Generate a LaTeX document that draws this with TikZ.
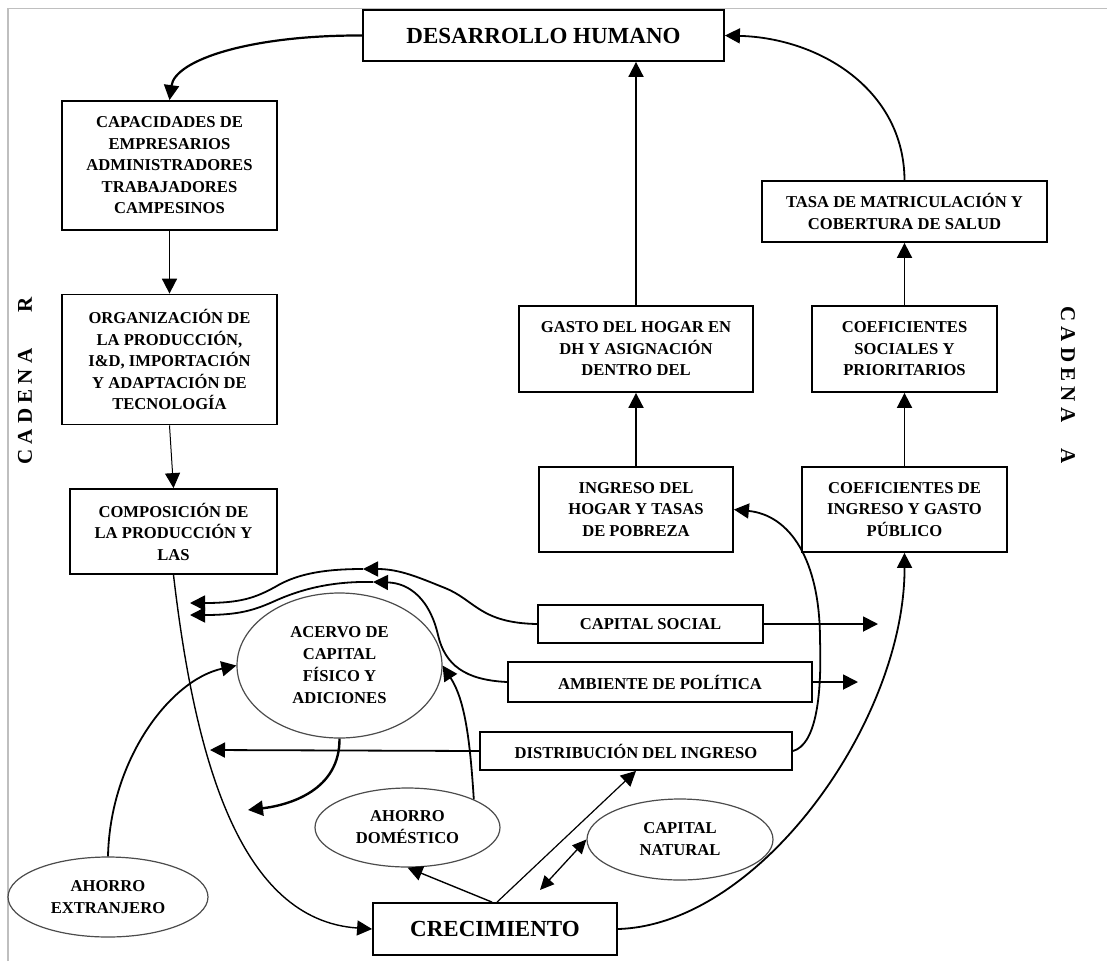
\documentclass[tikz,border=0pt]{standalone}
\usepackage{fontspec}
\setmainfont{Liberation Serif}
\usetikzlibrary{arrows.meta,shapes.geometric,calc}
\newcommand\smtxt{\fontsize{16.6}{21.5}\selectfont\bfseries}
\newcommand\ellsmtxt{\fontsize{16.6}{22}\selectfont\bfseries}
\newcommand\bigtxt{\fontsize{23}{26}\selectfont\bfseries}
\newcommand\sidetxt{\fontsize{21}{24}\selectfont\bfseries}
\begin{document}
\begin{tikzpicture}[x=1pt,y=-1pt,
  box/.style={draw=black, line width=1.8pt, align=center, inner sep=0pt, font=\smtxt},
  ell/.style={draw=black!70, line width=1.2pt, ellipse, align=center, inner sep=0pt, font=\ellsmtxt},
  arr/.style={-{Triangle[length=15pt,width=15pt]}, line width=1.8pt},
  dblarr/.style={{Triangle[length=14pt,width=13pt]}-{Triangle[length=14pt,width=13pt]}, line width=1.3pt}]
\useasboundingbox (0,0) rectangle (1107,961);
\fill[white] (0,0) rectangle (1107,961);
\draw[black!25, line width=1.5pt] (8,961) -- (8,8.5) -- (1107,8.5);

% boxes
\node[box, minimum width=361pt, minimum height=51pt, font=\bigtxt] (dh) at (543.5,35.5) {DESARROLLO HUMANO};
\node[box, minimum width=215pt, minimum height=129pt] (cap) at (169.5,165.5) {CAPACIDADES DE\\EMPRESARIOS\\ADMINISTRADORES\\TRABAJADORES\\CAMPESINOS};
\node[box, minimum width=215pt, minimum height=130pt] (org) at (169.5,359.5) {ORGANIZACIÓN DE\\LA PRODUCCIÓN,\\I\&D, IMPORTACIÓN\\Y ADAPTACIÓN DE\\TECNOLOGÍA};
\node[box, minimum width=207pt, minimum height=85pt] (comp) at (173.5,531.5) {COMPOSICIÓN DE\\LA PRODUCCIÓN Y\\LAS};
\node[box, minimum width=234pt, minimum height=86pt] (gasto) at (636,349) {GASTO DEL HOGAR EN\\DH Y ASIGNACIÓN\\DENTRO DEL};
\node[box, minimum width=194pt, minimum height=85pt] (ingh) at (636,509.5) {INGRESO DEL\\HOGAR Y TASAS\\DE POBREZA};
\node[box, minimum width=285pt, minimum height=61pt] (tasa) at (904.5,211.5) {TASA DE MATRICULACIÓN Y\\COBERTURA DE SALUD};
\node[box, minimum width=185pt, minimum height=86pt] (coefs) at (904.5,349) {COEFICIENTES\\SOCIALES Y\\PRIORITARIOS};
\node[box, minimum width=205pt, minimum height=85pt] (coefi) at (904.5,509.5) {COEFICIENTES DE\\INGRESO Y GASTO\\PÚBLICO};
\node[box, minimum width=225pt, minimum height=38pt] (cs) at (650.5,624) {CAPITAL SOCIAL};
\node[box, minimum width=304pt, minimum height=40pt] (amb) at (660,682) {AMBIENTE DE POLÍTICA};
\node[box, minimum width=312pt, minimum height=38pt] (dist) at (636,751) {DISTRIBUCIÓN DEL INGRESO};
\node[box, minimum width=244pt, minimum height=52pt, font=\bigtxt] (crec) at (495,929) {CRECIMIENTO};

% ellipses
\node[ell, minimum width=205pt, minimum height=145pt] (acervo) at (339.5,665.5) {ACERVO DE\\CAPITAL\\FÍSICO Y\\ADICIONES};
\node[ell, minimum width=185pt, minimum height=79pt] (ahd) at (407.5,827.5) {AHORRO\\DOMÉSTICO};
\node[ell, minimum width=186pt, minimum height=81pt] (capn) at (680,839.5) {CAPITAL\\NATURAL};
\node[ell, minimum width=200pt, minimum height=80pt] (ahe) at (108,897) {AHORRO\\EXTRANJERO};

% side labels
\node[font=\sidetxt, rotate=90, inner sep=0pt] (cadr) at (25,381) {C A D E N A\hspace{36pt}R};
\node[font=\sidetxt, rotate=-90, inner sep=0pt] (cada) at (1068,385) {C A D E N A\hspace{26pt}A};

% free ends
\coordinate (csend) at (878,624);
\coordinate (ambend) at (858,682);
\coordinate (distend) at (210,750);
\coordinate (acend) at (248,810);
\coordinate (cnend) at (540,890);
\coordinate (m1) at (363,569);
\coordinate (m2) at (373,582);
\coordinate (t1) at (190,603);
\coordinate (t2) at (190,615);

% connectors
\draw[arr, line width=2.2pt] (dh.west) .. controls (250,35) and (175,60) .. (cap.north);
\draw[arr] (cap.south) -- (org.north);
\draw[arr, line width=1pt] (org.south) -- (comp.north);
\draw[arr, line width=1.4pt] (comp.south) .. controls (195,760) and (240,920) .. (crec.west);
\draw[arr] (crec.east) .. controls (760,925) and (905,720) .. (coefi.south);
\draw[arr] (ingh.north) -- (gasto.south);
\draw[arr] (gasto.north) -- (gasto.north |- dh.south);
\draw[arr] (coefi.north) -- (coefs.south);
\draw[arr] (coefs.north) -- (tasa.south);
\draw[arr] (tasa.north) .. controls (904,90) and (820,38) .. (dh.east);
\draw[arr] (cs.east) -- (csend);
\draw[arr] (amb.east) -- (ambend);
\draw[arr] (dist.west) -- (distend);
\draw[arr] (cs.west) .. controls (480,623) and (475,600) .. (445,588) .. controls (420,578) and (400,569) .. (m1);
\draw[arr] (m1) .. controls (320,569) and (295,575) .. (275,587) .. controls (255,598) and (240,603) .. (t1);
\draw[arr] (amb.west) .. controls (465,680) and (445,665) .. (438,635) .. controls (430,600) and (410,583) .. (m2);
\draw[arr] (m2) .. controls (330,581) and (300,590) .. (277,600) .. controls (255,610) and (240,615) .. (t2);
\draw[arr] (ahe.north) .. controls (110,760) and (170,680) .. (acervo.west);
\draw[arr, line width=2.4pt] (acervo.south) .. controls (340,790) and (290,805) .. (acend);
\draw[arr] (ahd.23) .. controls (470,740) and (465,700) .. (acervo.east);
\draw[arr, line width=1.4pt] ([xshift=-3pt]crec.north) -- (ahd.south);
\draw[arr, line width=1.2pt] ([xshift=2pt]crec.north) -- (dist.south);
\draw[dblarr] (cnend) -- (capn.west);
\draw[arr] (dist.east) .. controls (815,745) and (822,700) .. (820,640) .. controls (820,560) and (790,515) .. (ingh.east);
\end{tikzpicture}
\end{document}
